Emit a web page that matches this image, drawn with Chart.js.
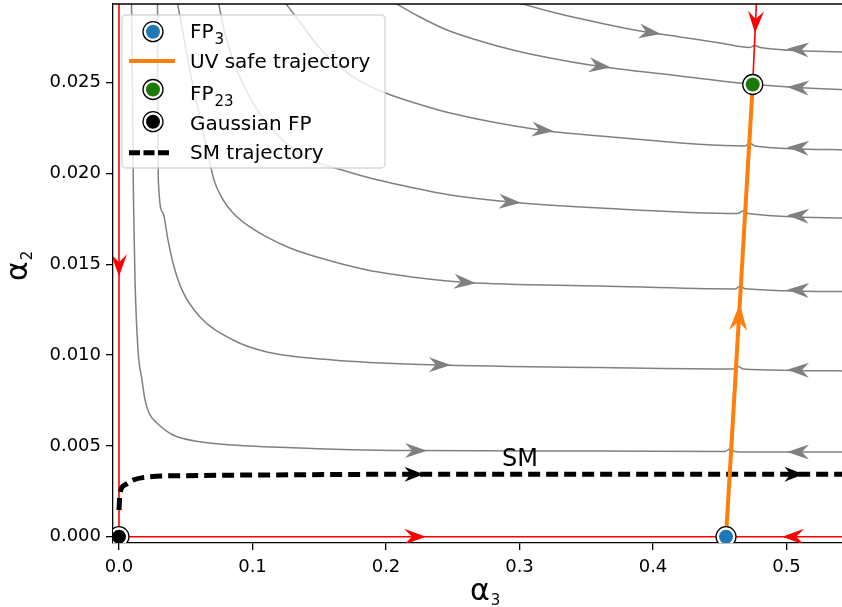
<!DOCTYPE html>
<html>
<head>
<meta charset="utf-8">
<script src="https://cdn.jsdelivr.net/npm/chart.js@4.4.1/dist/chart.umd.min.js"></script>
<style>
  html, body { margin: 0; padding: 0; background: #fff; overflow: hidden; }
  #wrap { width: 842px; height: 607px; overflow: hidden; }
</style>
</head>
<body>
<div id="wrap"><canvas id="flow" width="850" height="607"></canvas></div>
<script>
Chart.defaults.font.family = "'DejaVu Sans', sans-serif";
Chart.defaults.color = '#000';

// axis ranges and ticks
const xMin = -0.00449, xMax = 0.54607;
const yMin = -0.000347, yMax = 0.029334;
const xTicks = [0, 0.1, 0.2, 0.3, 0.4, 0.5];
const yTicks = [0, 0.005, 0.010, 0.015, 0.020, 0.025];

// flow lines (alpha3, alpha2), bottom one first
const flowA = [[0.00936,0.02955],[0.01011,0.02405],[0.01086,0.01854],[0.01199,0.01414],[0.01423,0.01028],[0.01723,0.00863],[0.01948,0.00753],[0.02247,0.00681],[0.02846,0.00626],[0.04045,0.00560],[0.06067,0.00523],[0.08539,0.00505],[0.13558,0.00488],[0.18577,0.00477],[0.22547,0.00474],[0.36030,0.00472],[0.45393,0.00469],[0.45768,0.00483],[0.46142,0.00469],[0.46891,0.00466],[0.546,0.00466]];
const flowB = [[0.02884,0.02955],[0.02906,0.02405],[0.02944,0.01964],[0.03296,0.01783],[0.03670,0.01634],[0.04045,0.01507],[0.04719,0.01359],[0.06067,0.01210],[0.08539,0.01083],[0.11086,0.01017],[0.16030,0.00973],[0.22547,0.00948],[0.36030,0.00932],[0.45993,0.00924],[0.46367,0.00937],[0.46742,0.00924],[0.546,0.00913]];
const flowC = [[0.04345,0.02955],[0.05019,0.02680],[0.05768,0.02405],[0.06517,0.02157],[0.07116,0.01964],[0.07715,0.01865],[0.08539,0.01783],[0.09813,0.01706],[0.11086,0.01650],[0.12809,0.01590],[0.14831,0.01540],[0.18577,0.01469],[0.22547,0.01425],[0.26067,0.01400],[0.36030,0.01381],[0.46142,0.01364],[0.46517,0.01379],[0.46891,0.01366],[0.546,0.01350]];
const flowD = [[0.07416,0.02955],[0.07865,0.02790],[0.08539,0.02625],[0.09513,0.02460],[0.10787,0.02305],[0.12434,0.02173],[0.14457,0.02074],[0.16704,0.02019],[0.18801,0.01975],[0.21049,0.01937],[0.24794,0.01882],[0.29288,0.01843],[0.36030,0.01810],[0.46367,0.01780],[0.46742,0.01794],[0.47116,0.01780],[0.546,0.01755]];
const flowE = [[0.12285,0.02955],[0.13558,0.02834],[0.14906,0.02702],[0.16554,0.02586],[0.18052,0.02509],[0.19775,0.02449],[0.22172,0.02388],[0.24794,0.02333],[0.31536,0.02240],[0.36030,0.02207],[0.46891,0.02152],[0.47266,0.02165],[0.47640,0.02152],[0.546,0.02130]];
const flowF = [[0.2030,0.02955],[0.22547,0.02862],[0.24569,0.02790],[0.27041,0.02730],[0.29513,0.02680],[0.32285,0.02636],[0.35281,0.02598],[0.42022,0.02537],[0.4747,0.02491],[0.50262,0.02476],[0.546,0.02460]];
const flowG = [[0.29288,0.02955],[0.30262,0.02933],[0.33034,0.02878],[0.36030,0.02829],[0.39026,0.02785],[0.42022,0.02752],[0.45019,0.02719],[0.47266,0.02694],[0.47640,0.02705],[0.48015,0.02694],[0.546,0.02669]];

// arrow heads on each flow line: [alpha3, alpha2, direction]
const flowArrows = [
  [[0.2225,0.00474,1],[0.5086,0.00466,-1]],
  [[0.2404,0.00946,1],[0.5086,0.00917,-1]],
  [[0.2592,0.01401,1],[0.5086,0.01358,-1]],
  [[0.2929,0.01843,1],[0.5086,0.01767,-1]],
  [[0.3176,0.02243,1],[0.5086,0.02141,-1]],
  [[0.3603,0.02592,1],[0.5086,0.02472,-1]],
  [[0.3978,0.02777,1],[0.5086,0.02683,-1]]
];

// fixed points
const gaussianFP = [0, 0];
const fp3 = [0.4547, 0];
const fp23 = [0.4747, 0.0249];

// separatrices
const axisA2 = [[0, 0], [0, 0.0300]];
const axisA3 = [[0, 0], [0.546, 0]];
const fp23Upper = [[0.4747, 0.0249], [0.4778, 0.0300]];
const uvSafe = [fp3, fp23];

// SM running
const smTrajectory = [[0,0.00147],[0.00075,0.00241],[0.0045,0.00285],[0.0105,0.00312],[0.0232,0.00330],[0.0479,0.00336],[0.1109,0.00340],[0.2255,0.00344],[0.546,0.00344]];
const smLabelAt = [0.3004, 0.00422];

const BLUE = '#1f77b4', GREEN = '#1a7a05', ORANGE = '#ff7f0e', GRAY = '#808080';

const pts = arr => arr.map(([x, y]) => ({ x, y }));

const flows = [flowA, flowB, flowC, flowD, flowE, flowF, flowG];
const datasets = flows.map((f, i) => ({
  data: pts(f),
  borderColor: GRAY,
  borderWidth: 1.5,
  cubicInterpolationMode: 'monotone',
  arrows: flowArrows[i],
  arrowSize: [22, 7.5, 7],
  order: 10
}));

const redLine = (d, arrows) => ({
  data: pts(d), borderColor: '#ff0000', borderWidth: 1.6, tension: 0,
  arrows, arrowSize: [22, 8, 8], order: 9
});
datasets.push(redLine(axisA2, [[0, 0.01495, -1]]));
datasets.push(redLine(axisA3, [[0.2217, 0, 1], [0.505, 0, -1]]));
datasets.push(redLine(fp23Upper, [[0.4769, 0.02834, -1]]));

datasets.push({
  data: pts(smTrajectory), borderColor: '#000', borderWidth: 5, borderDash: [12, 6],
  cubicInterpolationMode: 'monotone',
  arrows: [[0.221, 0.00344, 1], [0.5056, 0.00344, 1]], arrowSize: [19, 7.5, 6], order: 8
});

datasets.push({
  data: pts(uvSafe), borderColor: ORANGE, borderWidth: 4, tension: 0,
  arrows: [[0.4644, 0.0121, 1]], arrowSize: [27, 9, 9], order: 7
});

// fixed point markers: white ring then coloured dot
const fixedPoints = [fp3, fp23, gaussianFP];
datasets.push({
  data: pts(fixedPoints), showLine: false, pointRadius: 10,
  pointBackgroundColor: '#fff', pointBorderColor: '#000', pointBorderWidth: 1.3, order: 2
});
datasets.push({
  data: pts(fixedPoints), showLine: false, pointRadius: 7,
  pointBackgroundColor: [BLUE, GREEN, '#000'], pointBorderWidth: 0, order: 1
});

datasets.forEach(ds => {
  if (ds.showLine === undefined) ds.showLine = true;
  if (ds.pointRadius === undefined) ds.pointRadius = 0;
  ds.clip = 0;
});

function drawHead(ctx, x, y, ang, size, color) {
  const [len, half, notch] = size;
  ctx.save();
  ctx.translate(x, y);
  ctx.rotate(ang);
  ctx.beginPath();
  ctx.moveTo(len / 2, 0);
  ctx.lineTo(-len / 2, -half);
  ctx.lineTo(-len / 2 + notch, 0);
  ctx.lineTo(-len / 2, half);
  ctx.closePath();
  ctx.fillStyle = color;
  ctx.fill();
  ctx.restore();
}

const arrowHeads = {
  id: 'arrowHeads',
  afterDatasetsDraw(chart) {
    const { ctx, chartArea: a, scales: { x, y } } = chart;
    ctx.save();
    ctx.beginPath();
    ctx.rect(a.left, a.top, a.right - a.left, a.bottom - a.top);
    ctx.clip();
    chart.data.datasets.forEach(ds => {
      if (!ds.arrows) return;
      const p = ds.data.map(d => [x.getPixelForValue(d.x), y.getPixelForValue(d.y)]);
      ds.arrows.forEach(([ax, ay, dir]) => {
        const px = x.getPixelForValue(ax), py = y.getPixelForValue(ay);
        let best = null;
        for (let i = 0; i < p.length - 1; i++) {
          const dx = p[i + 1][0] - p[i][0], dy = p[i + 1][1] - p[i][1];
          const l2 = dx * dx + dy * dy;
          if (!l2) continue;
          let t = ((px - p[i][0]) * dx + (py - p[i][1]) * dy) / l2;
          t = Math.max(0, Math.min(1, t));
          const qx = p[i][0] + t * dx, qy = p[i][1] + t * dy;
          const d = (qx - px) ** 2 + (qy - py) ** 2;
          if (!best || d < best.d) best = { d, qx, qy, ang: Math.atan2(dy, dx) };
        }
        drawHead(ctx, best.qx, best.qy, best.ang + (dir < 0 ? Math.PI : 0), ds.arrowSize, ds.borderColor);
      });
    });
    ctx.restore();
  }
};

// legend rows
const legendRows = [
  { kind: 'marker', color: BLUE, text: 'FP', sub: '3' },
  { kind: 'line', text: 'UV safe trajectory' },
  { kind: 'marker', color: GREEN, text: 'FP', sub: '23' },
  { kind: 'marker', color: '#000', text: 'Gaussian FP' },
  { kind: 'dash', text: 'SM trajectory' }
];
const legendMid = [31.7, 61, 89.5, 121.7, 152.7];
const legendBase = [38.3, 68.3, 100, 130, 159.3];

const overlay = {
  id: 'overlay',
  afterDraw(chart) {
    const { ctx, chartArea: a, scales: { x, y } } = chart;
    ctx.save();

    // top spine
    ctx.strokeStyle = '#000';
    ctx.lineWidth = 1.3;
    ctx.beginPath();
    ctx.moveTo(a.left, a.top);
    ctx.lineTo(a.right, a.top);
    ctx.stroke();

    // SM label
    ctx.fillStyle = '#000';
    ctx.font = "24px 'DejaVu Sans'";
    ctx.textAlign = 'center';
    ctx.textBaseline = 'middle';
    ctx.fillText('SM', x.getPixelForValue(smLabelAt[0]), y.getPixelForValue(smLabelAt[1]));

    // axis titles
    ctx.textAlign = 'left';
    ctx.textBaseline = 'alphabetic';
    ctx.font = "30px 'DejaVu Sans'";
    const wa = ctx.measureText('α').width;
    ctx.fillText('α', 470, 600);
    ctx.font = "15px 'DejaVu Sans'";
    ctx.fillText('3', 470 + wa + 1, 605);

    ctx.save();
    ctx.translate(27, 281);
    ctx.rotate(-Math.PI / 2);
    ctx.font = "30px 'DejaVu Sans'";
    ctx.fillText('α', 0, 0);
    ctx.font = "15px 'DejaVu Sans'";
    ctx.fillText('2', wa + 1, 5);
    ctx.restore();

    // legend
    ctx.beginPath();
    ctx.roundRect(122, 15, 263, 153, 4);
    ctx.fillStyle = 'rgba(255,255,255,0.8)';
    ctx.fill();
    ctx.strokeStyle = 'rgba(204,204,204,0.8)';
    ctx.lineWidth = 1.3;
    ctx.stroke();

    legendRows.forEach((row, i) => {
      const cy = legendMid[i], by = legendBase[i];
      if (row.kind === 'marker') {
        ctx.beginPath();
        ctx.arc(153, cy, 10, 0, Math.PI * 2);
        ctx.fillStyle = '#fff';
        ctx.fill();
        ctx.strokeStyle = '#000';
        ctx.lineWidth = 1.3;
        ctx.stroke();
        ctx.beginPath();
        ctx.arc(153, cy, 7, 0, Math.PI * 2);
        ctx.fillStyle = row.color;
        ctx.fill();
      } else {
        ctx.beginPath();
        ctx.moveTo(129, cy);
        ctx.lineTo(row.kind === 'line' ? 175 : 169, cy);
        ctx.strokeStyle = row.kind === 'line' ? ORANGE : '#000';
        ctx.lineWidth = row.kind === 'line' ? 4 : 5;
        ctx.setLineDash(row.kind === 'line' ? [] : [11, 3.5]);
        ctx.stroke();
        ctx.setLineDash([]);
      }
      ctx.fillStyle = '#000';
      ctx.font = "20px 'DejaVu Sans'";
      ctx.fillText(row.text, 190, by);
      if (row.sub) {
        const w = ctx.measureText(row.text).width;
        ctx.font = "15px 'DejaVu Sans'";
        ctx.fillText(row.sub, 190 + w + 1, by + 6);
      }
    });
    ctx.restore();
  }
};

// no extra room for overhanging tick labels: the frame is pinned
const pinFrame = (s, size) => {
  if (s.isHorizontal()) s.height = size; else s.width = size;
  s.paddingTop = s.paddingBottom = s.paddingLeft = s.paddingRight = 0;
};

new Chart(document.getElementById('flow'), {
  type: 'scatter',
  data: { datasets },
  options: {
    responsive: false,
    animation: false,
    devicePixelRatio: 1,
    layout: { autoPadding: false, padding: { top: 4, right: 2, left: 0, bottom: 0 } },
    plugins: { legend: { display: false }, tooltip: { enabled: false } },
    scales: {
      x: {
        type: 'linear', min: xMin, max: xMax,
        afterBuildTicks: s => { s.ticks = xTicks.map(v => ({ value: v })); },
        afterFit: s => pinFrame(s, 64),
        ticks: { callback: v => v.toFixed(1), font: { size: 18 }, color: '#000', padding: 7, maxRotation: 0, autoSkip: false },
        grid: { drawOnChartArea: false, drawTicks: true, tickLength: 7, color: '#000', lineWidth: 1.3 },
        border: { display: true, color: '#000', width: 1.3 }
      },
      y: {
        type: 'linear', min: yMin, max: yMax,
        afterBuildTicks: s => { s.ticks = yTicks.map(v => ({ value: v })); },
        afterFit: s => pinFrame(s, 113),
        ticks: { callback: v => v.toFixed(3), font: { size: 18 }, color: '#000', padding: 5, autoSkip: false },
        grid: { drawOnChartArea: false, drawTicks: true, tickLength: 7, color: '#000', lineWidth: 1.3 },
        border: { display: true, color: '#000', width: 1.3 }
      }
    }
  },
  plugins: [arrowHeads, overlay]
});
</script>
</body>
</html>
